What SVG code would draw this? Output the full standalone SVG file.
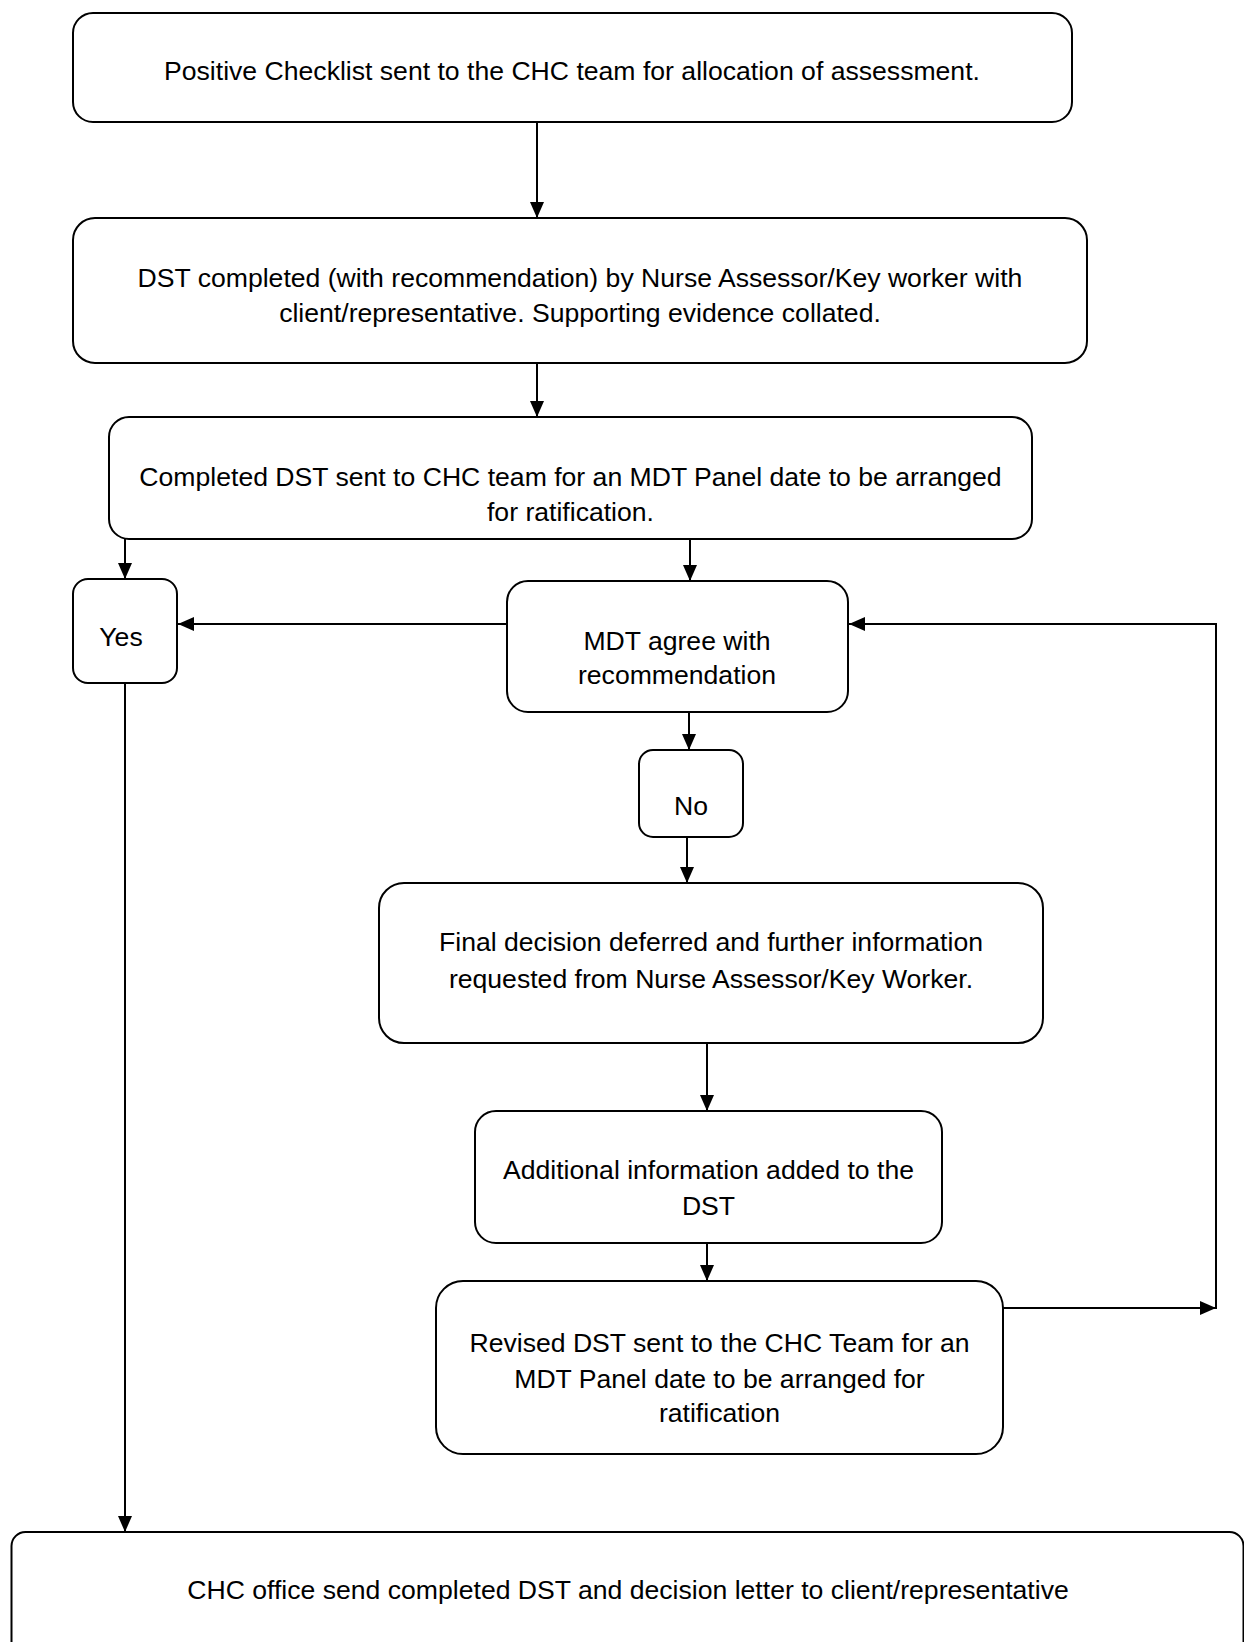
<svg xmlns="http://www.w3.org/2000/svg" width="1244" height="1642" viewBox="0 0 1244 1642">
<style>
.box{fill:#fff;stroke:#000;stroke-width:2}
.t{font-family:"Liberation Sans",Arial,sans-serif;font-size:26.6px;fill:#000;text-anchor:middle}
.c{fill:none;stroke:#000;stroke-width:2}
</style>
<defs>
<marker id="ah" markerUnits="userSpaceOnUse" markerWidth="16" markerHeight="14" refX="16" refY="7" orient="auto">
<path d="M0,0 L16,7 L0,14 Z" fill="#000"/>
</marker>
</defs>
<rect width="1244" height="1642" fill="#fff"/>
<g id="connectors">
<line class="c" x1="537" y1="122" x2="537" y2="218" marker-end="url(#ah)"/>
<line class="c" x1="537" y1="363" x2="537" y2="417" marker-end="url(#ah)"/>
<line class="c" x1="125" y1="539" x2="125" y2="579" marker-end="url(#ah)"/>
<line class="c" x1="690" y1="539" x2="690" y2="581" marker-end="url(#ah)"/>
<line class="c" x1="507" y1="624" x2="178" y2="624" marker-end="url(#ah)"/>
<line class="c" x1="689" y1="712" x2="689" y2="750" marker-end="url(#ah)"/>
<line class="c" x1="687" y1="837" x2="687" y2="883" marker-end="url(#ah)"/>
<line class="c" x1="707" y1="1043" x2="707" y2="1111" marker-end="url(#ah)"/>
<line class="c" x1="707" y1="1243" x2="707" y2="1281" marker-end="url(#ah)"/>
<line class="c" x1="997" y1="1308" x2="1216" y2="1308" marker-end="url(#ah)"/>
<polyline class="c" points="1216,1309 1216,624 849,624" marker-end="url(#ah)"/>
<line class="c" x1="125" y1="683" x2="125" y2="1532" marker-end="url(#ah)"/>
</g>
<g id="n1"><rect class="box" x="73" y="13" width="999" height="109" rx="20"/>
<text class="t" x="572" y="79.5">Positive Checklist sent to the CHC team for allocation of assessment.</text></g>
<g id="n2"><rect class="box" x="73" y="218" width="1014" height="145" rx="22"/>
<text class="t" x="580" y="287">DST completed (with recommendation) by Nurse Assessor/Key worker with</text>
<text class="t" x="580" y="321.5">client/representative. Supporting evidence collated.</text></g>
<g id="n3"><rect class="box" x="109" y="417" width="923" height="122" rx="20"/>
<text class="t" x="570.5" y="486">Completed DST sent to CHC team for an MDT Panel date to be arranged</text>
<text class="t" x="570.5" y="520.5">for ratification.</text></g>
<g id="yes"><rect class="box" x="73" y="579" width="104" height="104" rx="15"/>
<text class="t" x="121" y="646">Yes</text></g>
<g id="mdt"><rect class="box" x="507" y="581" width="341" height="131" rx="21"/>
<text class="t" x="677" y="649.5">MDT agree with</text>
<text class="t" x="677" y="684">recommendation</text></g>
<g id="no"><rect class="box" x="639" y="750" width="104" height="87" rx="14"/>
<text class="t" x="691" y="814.5">No</text></g>
<g id="final"><rect class="box" x="379" y="883" width="664" height="160" rx="25"/>
<text class="t" x="711" y="951">Final decision deferred and further information</text>
<text class="t" x="711" y="987.5">requested from Nurse Assessor/Key Worker.</text></g>
<g id="add"><rect class="box" x="475" y="1111" width="467" height="132" rx="21"/>
<text class="t" x="708.5" y="1179">Additional information added to the</text>
<text class="t" x="708.5" y="1214.5">DST</text></g>
<g id="rev"><rect class="box" x="436" y="1281" width="567" height="173" rx="27"/>
<text class="t" x="719.5" y="1352">Revised DST sent to the CHC Team for an</text>
<text class="t" x="719.5" y="1387.5">MDT Panel date to be arranged for</text>
<text class="t" x="719.5" y="1422">ratification</text></g>
<g id="bottom"><rect class="box" x="11.5" y="1532" width="1232" height="140" rx="14"/>
<text class="t" x="628" y="1599">CHC office send completed DST and decision letter to client/representative</text></g>
</svg>
